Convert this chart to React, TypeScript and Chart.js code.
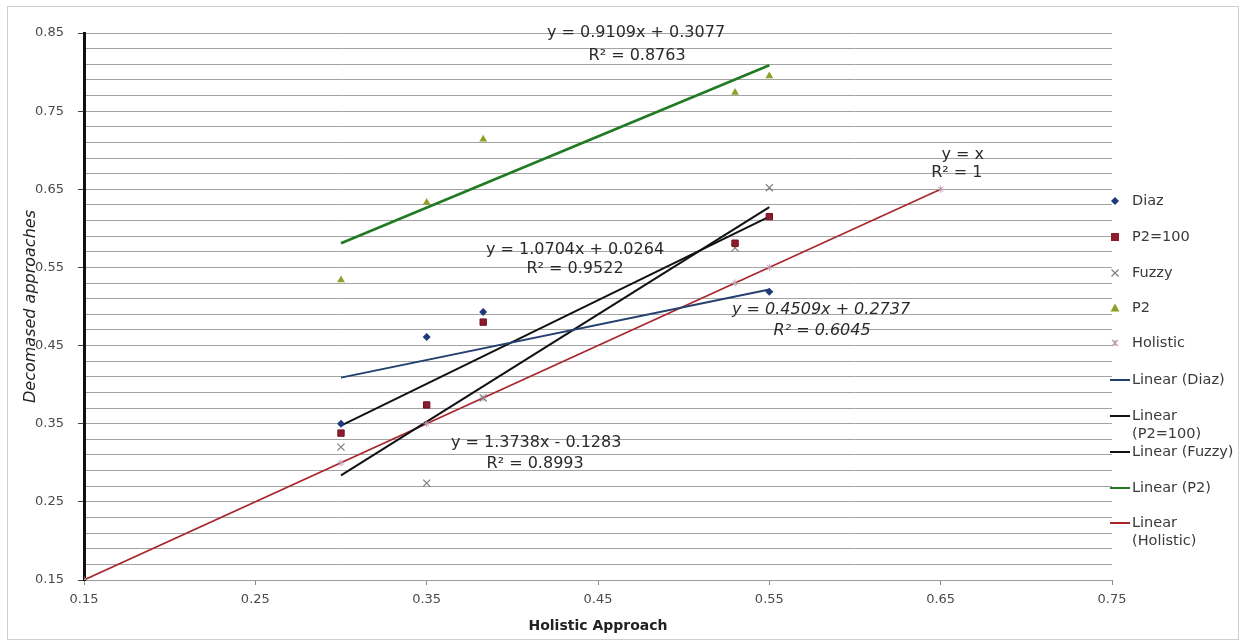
import React, { useEffect, useRef } from "react";
import { Chart, registerables } from "chart.js";

Chart.register(...registerables);

// ---------- data ----------
const diazX = [0.3, 0.35, 0.383, 0.55];
const diazY = [0.35, 0.461, 0.493, 0.519];
const p2100X = [0.3, 0.35, 0.383, 0.53, 0.55];
const p2100Y = [0.338, 0.374, 0.48, 0.581, 0.615];
const fuzzyX = [0.3, 0.35, 0.383, 0.53, 0.55];
const fuzzyY = [0.32, 0.274, 0.383, 0.575, 0.652];
const p2X = [0.3, 0.35, 0.383, 0.53, 0.55];
const p2Y = [0.534, 0.633, 0.714, 0.774, 0.795];
const holisticX = [0.15, 0.3, 0.35, 0.383, 0.53, 0.55, 0.65];
const holisticY = [0.15, 0.3, 0.35, 0.383, 0.53, 0.55, 0.65];

const trendNames = ["Linear (Diaz)", "Linear (P2=100)", "Linear (Fuzzy)", "Linear (P2)", "Linear (Holistic)"];
const trendSlope = [0.4509, 1.0704, 1.3738, 0.9109, 1];
const trendIntercept = [0.2737, 0.0264, -0.1283, 0.3077, 0];
const trendFrom = [0.3, 0.3, 0.3, 0.3, 0.15];
const trendTo = [0.55, 0.55, 0.55, 0.55, 0.65];
const trendEq = ["y = 0.4509x + 0.2737", "y = 1.0704x + 0.0264", "y = 1.3738x - 0.1283", "y = 0.9109x + 0.3077", "y = x"];
const trendR2 = ["R² = 0.6045", "R² = 0.9522", "R² = 0.8993", "R² = 0.8763", "R² = 1"];

const xTickLabels = [0.15, 0.25, 0.35, 0.45, 0.55, 0.65, 0.75];
const yTickLabels = [0.15, 0.25, 0.35, 0.45, 0.55, 0.65, 0.75, 0.85];

// ---------- styling / layout ----------
const FONT = "'DejaVu Sans', 'Liberation Sans', sans-serif";
const seriesColors = {
  diaz: "#1f3a78",
  p2100: "#8e1c2c",
  fuzzy: "#7d7d7d",
  p2: "#8f9f2a",
  holistic: "#c09aae",
};
const trendColors = ["#23406e", "#111111", "#111111", "#1f7a22", "#a8262c"];
const trendWidths = [2, 2, 2, 2.5, 1.6];

// annotation anchors in data coordinates (center of text)
const eqAnchor = [
  [0.5802, 0.4957],
  [0.4366, 0.5725],
  [0.4139, 0.3254],
  [0.4722, 0.8504],
  [0.6629, 0.6942],
];
const r2Anchor = [
  [0.5808, 0.4688],
  [0.4366, 0.5482],
  [0.4133, 0.2985],
  [0.4728, 0.8209],
  [0.6594, 0.6711],
];
const eqItalic = [true, false, false, false, false];

const pts = (xs: number[], ys: number[]) => xs.map((x, i) => ({ x, y: ys[i] }));

const isMajorY = (v: number) => yTickLabels.some((t) => Math.abs(t - v) < 1e-6);

function drawMarker(ctx: CanvasRenderingContext2D, kind: string, x: number, y: number, color: string) {
  ctx.save();
  ctx.fillStyle = color;
  ctx.strokeStyle = color;
  ctx.lineWidth = 1.2;
  ctx.beginPath();
  if (kind === "diamond") {
    const r = 4;
    ctx.moveTo(x, y - r);
    ctx.lineTo(x + r, y);
    ctx.lineTo(x, y + r);
    ctx.lineTo(x - r, y);
    ctx.closePath();
    ctx.fill();
  } else if (kind === "square") {
    ctx.rect(x - 4, y - 4, 8, 8);
    ctx.fill();
  } else if (kind === "x") {
    const r = 3.5;
    ctx.moveTo(x - r, y - r);
    ctx.lineTo(x + r, y + r);
    ctx.moveTo(x + r, y - r);
    ctx.lineTo(x - r, y + r);
    ctx.stroke();
  } else if (kind === "triangle") {
    ctx.moveTo(x, y - 4.5);
    ctx.lineTo(x + 4.5, y + 3.5);
    ctx.lineTo(x - 4.5, y + 3.5);
    ctx.closePath();
    ctx.fill();
  } else if (kind === "star") {
    const r = 3;
    ctx.moveTo(x - r, y - r);
    ctx.lineTo(x + r, y + r);
    ctx.moveTo(x + r, y - r);
    ctx.lineTo(x - r, y + r);
    ctx.moveTo(x, y - r);
    ctx.lineTo(x, y + r);
    ctx.stroke();
  } else if (kind.startsWith("line")) {
    ctx.lineWidth = 2;
    ctx.moveTo(x - 10, y);
    ctx.lineTo(x + 10, y);
    ctx.stroke();
  }
  ctx.restore();
}

const legendRows = [
  { lines: ["Diaz"], kind: "diamond", color: seriesColors.diaz, y: 201 },
  { lines: ["P2=100"], kind: "square", color: seriesColors.p2100, y: 237 },
  { lines: ["Fuzzy"], kind: "x", color: seriesColors.fuzzy, y: 273 },
  { lines: ["P2"], kind: "triangle", color: seriesColors.p2, y: 308 },
  { lines: ["Holistic"], kind: "star", color: seriesColors.holistic, y: 343 },
  { lines: [trendNames[0]], kind: "line", color: trendColors[0], y: 380 },
  { lines: ["Linear", "(P2=100)"], kind: "line", color: trendColors[1], y: 416 },
  { lines: [trendNames[2]], kind: "line", color: trendColors[2], y: 452 },
  { lines: [trendNames[3]], kind: "line", color: trendColors[3], y: 488 },
  { lines: ["Linear", "(Holistic)"], kind: "line", color: trendColors[4], y: 523 },
];

const overlayPlugin = {
  id: "overlay",
  beforeDraw(chart: any) {
    const { ctx, width, height } = chart;
    ctx.save();
    ctx.fillStyle = "#ffffff";
    ctx.fillRect(0, 0, width, height);
    ctx.strokeStyle = "#cfcfcf";
    ctx.lineWidth = 1;
    ctx.strokeRect(7.5, 6.5, 1231, 633);
    ctx.restore();
  },
  afterDraw(chart: any) {
    const { ctx } = chart;
    const xs = chart.scales.x;
    const ys = chart.scales.y;
    ctx.save();
    ctx.fillStyle = "#2a2a2a";
    ctx.textAlign = "center";
    ctx.textBaseline = "middle";
    for (let i = 0; i < trendEq.length; i++) {
      ctx.font = `${eqItalic[i] ? "italic " : ""}16px ${FONT}`;
      ctx.fillText(trendEq[i], xs.getPixelForValue(eqAnchor[i][0]), ys.getPixelForValue(eqAnchor[i][1]));
      ctx.fillText(trendR2[i], xs.getPixelForValue(r2Anchor[i][0]), ys.getPixelForValue(r2Anchor[i][1]));
    }
    // legend
    ctx.textAlign = "left";
    ctx.fillStyle = "#3a3a3a";
    ctx.font = `14.5px ${FONT}`;
    for (const row of legendRows) {
      drawMarker(ctx, row.kind, row.kind === "line" ? 1120 : 1115, row.y, row.color);
      row.lines.forEach((t, k) => ctx.fillText(t, 1132, row.y + k * 18.5));
    }
    ctx.restore();
  },
};

export default function App() {
  const ref = useRef<HTMLCanvasElement | null>(null);

  useEffect(() => {
    if (!ref.current) return;
    const trendSets = trendNames.map((name, i) => ({
      type: "scatter" as const,
      label: name,
      data: [
        { x: trendFrom[i], y: trendSlope[i] * trendFrom[i] + trendIntercept[i] },
        { x: trendTo[i], y: trendSlope[i] * trendTo[i] + trendIntercept[i] },
      ],
      showLine: true,
      borderColor: trendColors[i],
      borderWidth: trendWidths[i],
      pointRadius: 0,
      fill: false,
    }));
    const chart = new Chart(ref.current, {
      type: "scatter",
      data: {
        datasets: [
          {
            label: "Diaz",
            data: pts(diazX, diazY),
            pointStyle: "rectRot",
            pointRadius: 4,
            backgroundColor: seriesColors.diaz,
            borderColor: seriesColors.diaz,
            borderWidth: 0,
          },
          {
            label: "P2=100",
            data: pts(p2100X, p2100Y),
            pointStyle: "rect",
            pointRadius: 4.5,
            backgroundColor: seriesColors.p2100,
            borderColor: "#6e1220",
            borderWidth: 1,
          },
          {
            label: "Fuzzy",
            data: pts(fuzzyX, fuzzyY),
            pointStyle: "crossRot",
            pointRadius: 5,
            borderColor: seriesColors.fuzzy,
            borderWidth: 1.2,
          },
          {
            label: "P2",
            data: pts(p2X, p2Y),
            pointStyle: "triangle",
            pointRadius: 4.5,
            backgroundColor: seriesColors.p2,
            borderColor: seriesColors.p2,
            borderWidth: 0,
          },
          {
            label: "Holistic",
            data: pts(holisticX, holisticY),
            pointStyle: "star",
            pointRadius: 3.5,
            borderColor: seriesColors.holistic,
            borderWidth: 1,
          },
          ...trendSets,
        ],
      },
      options: {
        animation: false,
        responsive: false,
        maintainAspectRatio: false,
        layout: { padding: { left: 0, top: 33, right: 134, bottom: 0 } },
        plugins: { legend: { display: false }, tooltip: { enabled: false } },
        scales: {
          x: {
            type: "linear",
            position: "bottom",
            min: 0.15,
            max: 0.75,
            afterBuildTicks: (s: any) => {
              s.ticks = xTickLabels.map((v) => ({ value: v }));
            },
            afterFit: (s: any) => {
              s.height = 63;
            },
            grid: { drawOnChartArea: false, drawTicks: true, tickLength: 5, color: "#8a8a8a" },
            border: { color: "#9a9a9a", width: 1 },
            ticks: {
              autoSkip: false,
              maxRotation: 0,
              padding: 7,
              color: "#4a4a4a",
              font: { family: FONT, size: 13 },
              callback: (v: any) => Number(v).toFixed(2),
            },
            title: {
              display: true,
              text: "Holistic Approach",
              color: "#222",
              font: { family: FONT, size: 14, weight: "bold" },
              padding: { top: 0, bottom: 8 },
            },
          },
          y: {
            type: "linear",
            position: "left",
            min: 0.15,
            max: 0.85,
            afterBuildTicks: (s: any) => {
              const arr: any[] = [];
              for (let k = 0; k <= 35; k++) arr.push({ value: Math.round((0.15 + 0.02 * k) * 1000) / 1000 });
              s.ticks = arr;
            },
            afterFit: (s: any) => {
              s.width = 84;
            },
            grid: {
              color: "#a3a3a3",
              lineWidth: 1,
              drawTicks: true,
              tickLength: 6,
              tickColor: (c: any) => (c.tick && isMajorY(c.tick.value) ? "#444" : "rgba(0,0,0,0)"),
            },
            border: { color: "#111", width: 3 },
            ticks: {
              autoSkip: false,
              padding: 14,
              color: "#4a4a4a",
              font: { family: FONT, size: 13 },
              callback: (v: any) => (isMajorY(Number(v)) ? Number(v).toFixed(2) : ""),
            },
            title: {
              display: true,
              text: "Decomased approaches",
              color: "#222",
              font: { family: FONT, size: 16, style: "italic" },
              padding: { top: 21, bottom: 0 },
            },
          },
        },
      },
      plugins: [overlayPlugin],
    } as any);
    return () => chart.destroy();
  }, []);

  return (
    <div style={{ position: "fixed", left: 0, top: 0, width: 1246, height: 643, background: "#fff" }}>
      <canvas ref={ref} width={1246} height={643} style={{ display: "block", width: 1246, height: 643 }} />
    </div>
  );
}
